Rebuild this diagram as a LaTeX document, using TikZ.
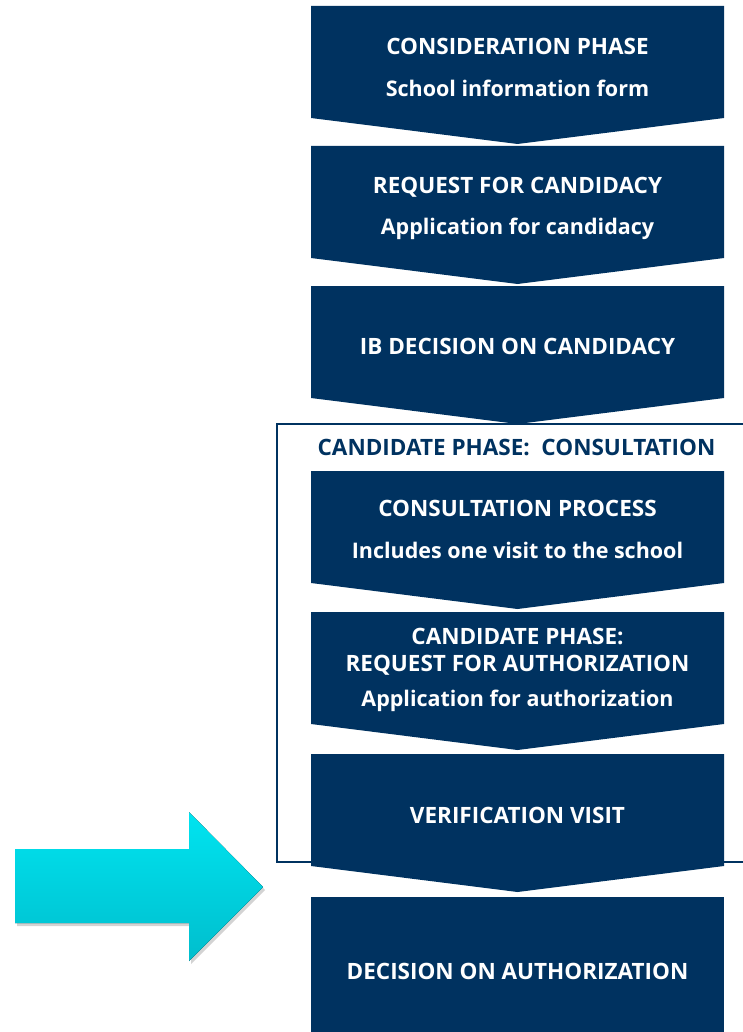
\documentclass[tikz,border=0pt]{standalone}
\usepackage{fontspec}
\setmainfont{Open Sans}
\usetikzlibrary{shadows}
\definecolor{ibnavy}{RGB}{0,50,96}
\definecolor{aqualight}{RGB}{0,228,240}
\definecolor{aquadark}{RGB}{0,190,205}
\begin{document}
\begin{tikzpicture}[x=1pt, y=-1pt,
    stage/.style={fill=ibnavy},
    head/.style={text=white, font=\bfseries\fontsize{22.5}{27}\selectfont, align=center},
    sub/.style={text=white, font=\bfseries\fontsize{21.5}{26}\selectfont},
    frametitle/.style={text=ibnavy, font=\bfseries\fontsize{22.5}{27}\selectfont}
  ]
  \useasboundingbox (0,0) rectangle (743,1032);
  \clip (0,0) rectangle (743,1032);

  % candidate phase frame, open to the right
  \draw[ibnavy, line width=1.2pt] (760,424) -- (277,424) -- (277,862) -- (760,862);

  % chevron steps
  \foreach \t in {6,146,286,471,612,754}
    \fill[stage] (311,\t) -- (724,\t) -- (724,\t+112) -- (517.5,\t+138) -- (311,\t+112) -- cycle;
  \fill[stage] (311,897) rectangle (724,1040);

  \node[head] (consid)   at (517.5,46)  {CONSIDERATION PHASE};
  \node[sub]  (consform) at (517.5,88)  {School information form};
  \node[head] (request)  at (517.5,187) {REQUEST FOR CANDIDACY};
  \node[sub]  (reqform)  at (517.5,229) {Application for candidacy};
  \node[head] (ibdec)    at (517.5,346) {IB DECISION ON CANDIDACY};

  \node[frametitle] (candphase) at (516.5,447) {CANDIDATE PHASE:\ \ CONSULTATION};

  \node[head] (consult)  at (517.5,508) {CONSULTATION PROCESS};
  \node[sub]  (visit)    at (517.5,550) {Includes one visit to the school};
  \node[head] (reqauth)  at (517.5,651.5) {CANDIDATE PHASE:\\REQUEST FOR AUTHORIZATION};
  \node[sub]  (authform) at (517.5,701) {Application for authorization};
  \node[head] (verif)    at (517.5,815) {VERIFICATION VISIT};
  \node[head] (authdec)  at (517.5,971) {DECISION ON AUTHORIZATION};

  % pointer to the current step
  \fill[top color=aqualight, bottom color=aquadark, drop shadow={opacity=0.35, shadow xshift=2pt, shadow yshift=-3pt}]
    (15,849) -- (189,849) -- (189,812) -- (263,887) -- (189,961) -- (189,923) -- (15,923) -- cycle;
\end{tikzpicture}
\end{document}
